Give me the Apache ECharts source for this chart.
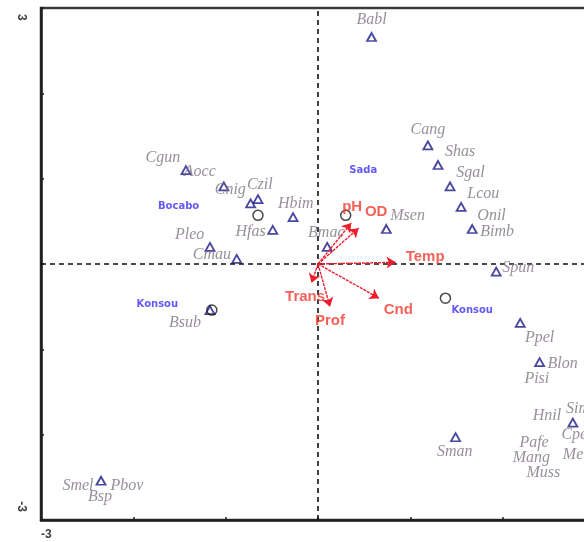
<!DOCTYPE html>
<html>
<head>
<meta charset="utf-8">
<script src="https://cdn.jsdelivr.net/npm/echarts@6/dist/echarts.min.js"></script>
<style>
  html, body { margin: 0; padding: 0; background: #fff; }
  #chart { width: 584px; height: 542px; }
</style>
</head>
<body>
<div id="chart"></div>
<script>
// Ordination biplot: species (triangles), sites (circles), environmental vectors (arrows)

// Species scores (axis 1, axis 2)
const speciesPoints = [
  [0.58, 2.66], [1.19, 1.39], [1.30, 1.16], [1.43, 0.91], [1.55, 0.67],
  [1.67, 0.41], [0.74, 0.41], [0.10, 0.20], [1.93, -0.09], [2.19, -0.69],
  [2.40, -1.15], [2.76, -1.86], [1.49, -2.03], [-2.35, -2.54], [-1.43, 1.10],
  [-1.02, 0.91], [-0.73, 0.71], [-0.65, 0.76], [-0.27, 0.55], [-0.49, 0.40],
  [-1.17, 0.20], [-0.88, 0.06], [-1.17, -0.54]
];

// Species codes and where their names sit
const speciesNames = [
  'Babl', 'Cang', 'Shas', 'Sgal', 'Lcou', 'Onil', 'Bimb', 'Msen', 'Bmac', 'Spun',
  'Ppel', 'Blon', 'Pisi', 'Simb', 'Hnil', 'Cpet', 'Pafe', 'Mang', 'Mela', 'Muss',
  'Sman', 'Smel', 'Pbov', 'Bsp', 'Cgun', 'Aocc', 'Cnig', 'Czil', 'Hbim', 'Hfas',
  'Pleo', 'Cmau', 'Bsub'
];
const speciesNameX = [
  0.58, 1.19, 1.54, 1.65, 1.79, 1.88, 1.94, 0.97, 0.09, 2.17,
  2.40, 2.65, 2.37, 2.86, 2.48, 2.80, 2.34, 2.31, 2.83, 2.44,
  1.48, -2.60, -2.07, -2.36, -1.68, -1.28, -0.95, -0.63, -0.24, -0.73,
  -1.39, -1.15, -1.44
];
const speciesNameY = [
  2.86, 1.57, 1.31, 1.07, 0.82, 0.56, 0.38, 0.56, 0.36, -0.05,
  -0.86, -1.17, -1.34, -1.70, -1.78, -2.00, -2.09, -2.27, -2.24, -2.45,
  -2.20, -2.60, -2.60, -2.73, 1.25, 1.08, 0.87, 0.93, 0.71, 0.38,
  0.34, 0.11, -0.69
];

// Site centroids
const sitePoints = [[-0.65, 0.57], [0.30, 0.57], [1.38, -0.40], [-1.15, -0.54]];
const siteNames = ['Bocabo', 'Sada', 'Konsou', 'Konsou'];
const siteNameX = [-1.51, 0.49, -1.74, 1.67];
const siteNameY = [0.68, 1.10, -0.47, -0.54];

// Environmental variables (vector tips) and label anchors
const envNames = ['pH', 'OD', 'Temp', 'Trans', 'Prof', 'Cnd'];
const envX = [0.36, 0.44, 0.84, -0.07, 0.13, 0.66];
const envY = [0.48, 0.42, 0.02, -0.22, -0.50, -0.40];
const envLabelX = [0.37, 0.63, 1.16, -0.14, 0.13, 0.87];
const envLabelY = [0.67, 0.61, 0.08, -0.39, -0.67, -0.54];

// Axis tick labels that are printed
const xTickLabels = [-3, 3];
const yTickLabels = [-3, 3];

const chart = echarts.init(document.getElementById('chart'), null, { renderer: 'canvas' });

const textPoint = (xs, ys, names) => names.map((n, i) => ({ value: [xs[i], ys[i]], name: n }));

const option = {
  backgroundColor: '#fff',
  animation: false,
  grid: {
    left: 41, top: 8, width: 554, height: 512,
    containLabel: false, outerBoundsMode: 'none',
    show: true, borderColor: '#3a3a3a', borderWidth: 2.5, backgroundColor: 'transparent'
  },
  xAxis: {
    type: 'value', min: -3, max: 3, interval: 1,
    splitLine: { show: false },
    axisLine: { show: true, onZero: false, lineStyle: { color: '#1e1e1e', width: 2.5 } },
    axisTick: { show: true, inside: true, length: 3, lineStyle: { color: '#1e1e1e', width: 1.5 } },
    axisLabel: {
      formatter: v => (xTickLabels.includes(v) ? String(v) : ''),
      align: 'left', margin: 9, fontSize: 12, fontWeight: 'bold',
      fontFamily: 'Liberation Sans, Arial, sans-serif', color: '#3c3c3c'
    }
  },
  yAxis: {
    type: 'value', min: -3, max: 3, interval: 1,
    splitLine: { show: false },
    axisLine: { show: true, onZero: false, lineStyle: { color: '#1e1e1e', width: 2.5 } },
    axisTick: { show: true, inside: true, length: 3, lineStyle: { color: '#1e1e1e', width: 1.5 } },
    axisLabel: {
      formatter: v => (yTickLabels.includes(v) ? String(v) : ''),
      rotate: -90, margin: 14,
      alignMinLabel: 'right', alignMaxLabel: 'left', verticalAlign: 'top',
      padding: [0, 8, 0, 6],
      fontSize: 12, fontWeight: 'bold',
      fontFamily: 'Liberation Sans, Arial, sans-serif', color: '#3c3c3c'
    }
  },
  series: [
    {
      // origin reference lines
      type: 'scatter', data: [], silent: true,
      markLine: {
        silent: true, symbol: 'none', animation: false,
        label: { show: false },
        lineStyle: { color: '#111', type: [5, 4], width: 1.6 },
        data: [{ xAxis: 0 }, { yAxis: 0 }]
      }
    },
    {
      type: 'scatter', z: 4,
      symbol: 'triangle', symbolSize: [9, 8],
      itemStyle: { color: '#fff', borderColor: '#1c1a86', borderWidth: 1.8 },
      data: speciesPoints
    },
    {
      type: 'scatter', z: 4,
      symbol: 'circle', symbolSize: 10,
      itemStyle: { color: 'rgba(0,0,0,0)', borderColor: '#1a1a1a', borderWidth: 1.5 },
      data: sitePoints
    },
    {
      type: 'lines', coordinateSystem: 'cartesian2d', z: 5, polyline: false,
      symbol: ['none', 'arrow'], symbolSize: 9,
      lineStyle: { color: '#ef1c2c', width: 1.4, type: [3, 1], opacity: 1 },
      data: envNames.map((n, i) => ({ coords: [[0, 0], [envX[i], envY[i]]] }))
    },
    {
      type: 'scatter', z: 6, symbolSize: 0,
      label: {
        show: true, position: 'inside', formatter: p => p.name,
        fontFamily: 'Liberation Serif, Times New Roman, serif', fontStyle: 'italic',
        fontSize: 16, color: '#7d7380'
      },
      data: textPoint(speciesNameX, speciesNameY, speciesNames)
    },
    {
      type: 'scatter', z: 6, symbolSize: 0,
      label: {
        show: true, position: 'inside', formatter: p => p.name,
        fontFamily: 'DejaVu Sans, sans-serif', fontWeight: 'bold',
        fontSize: 10, color: '#3b2ef0'
      },
      data: textPoint(siteNameX, siteNameY, siteNames)
    },
    {
      type: 'scatter', z: 7, symbolSize: 0,
      label: {
        show: true, position: 'inside', formatter: p => p.name,
        fontFamily: 'Liberation Sans, Arial, sans-serif', fontWeight: 'bold',
        fontSize: 15, color: '#f23a2e'
      },
      data: textPoint(envLabelX, envLabelY, envNames)
    }
  ]
};

chart.setOption(option);
</script>
</body>
</html>
